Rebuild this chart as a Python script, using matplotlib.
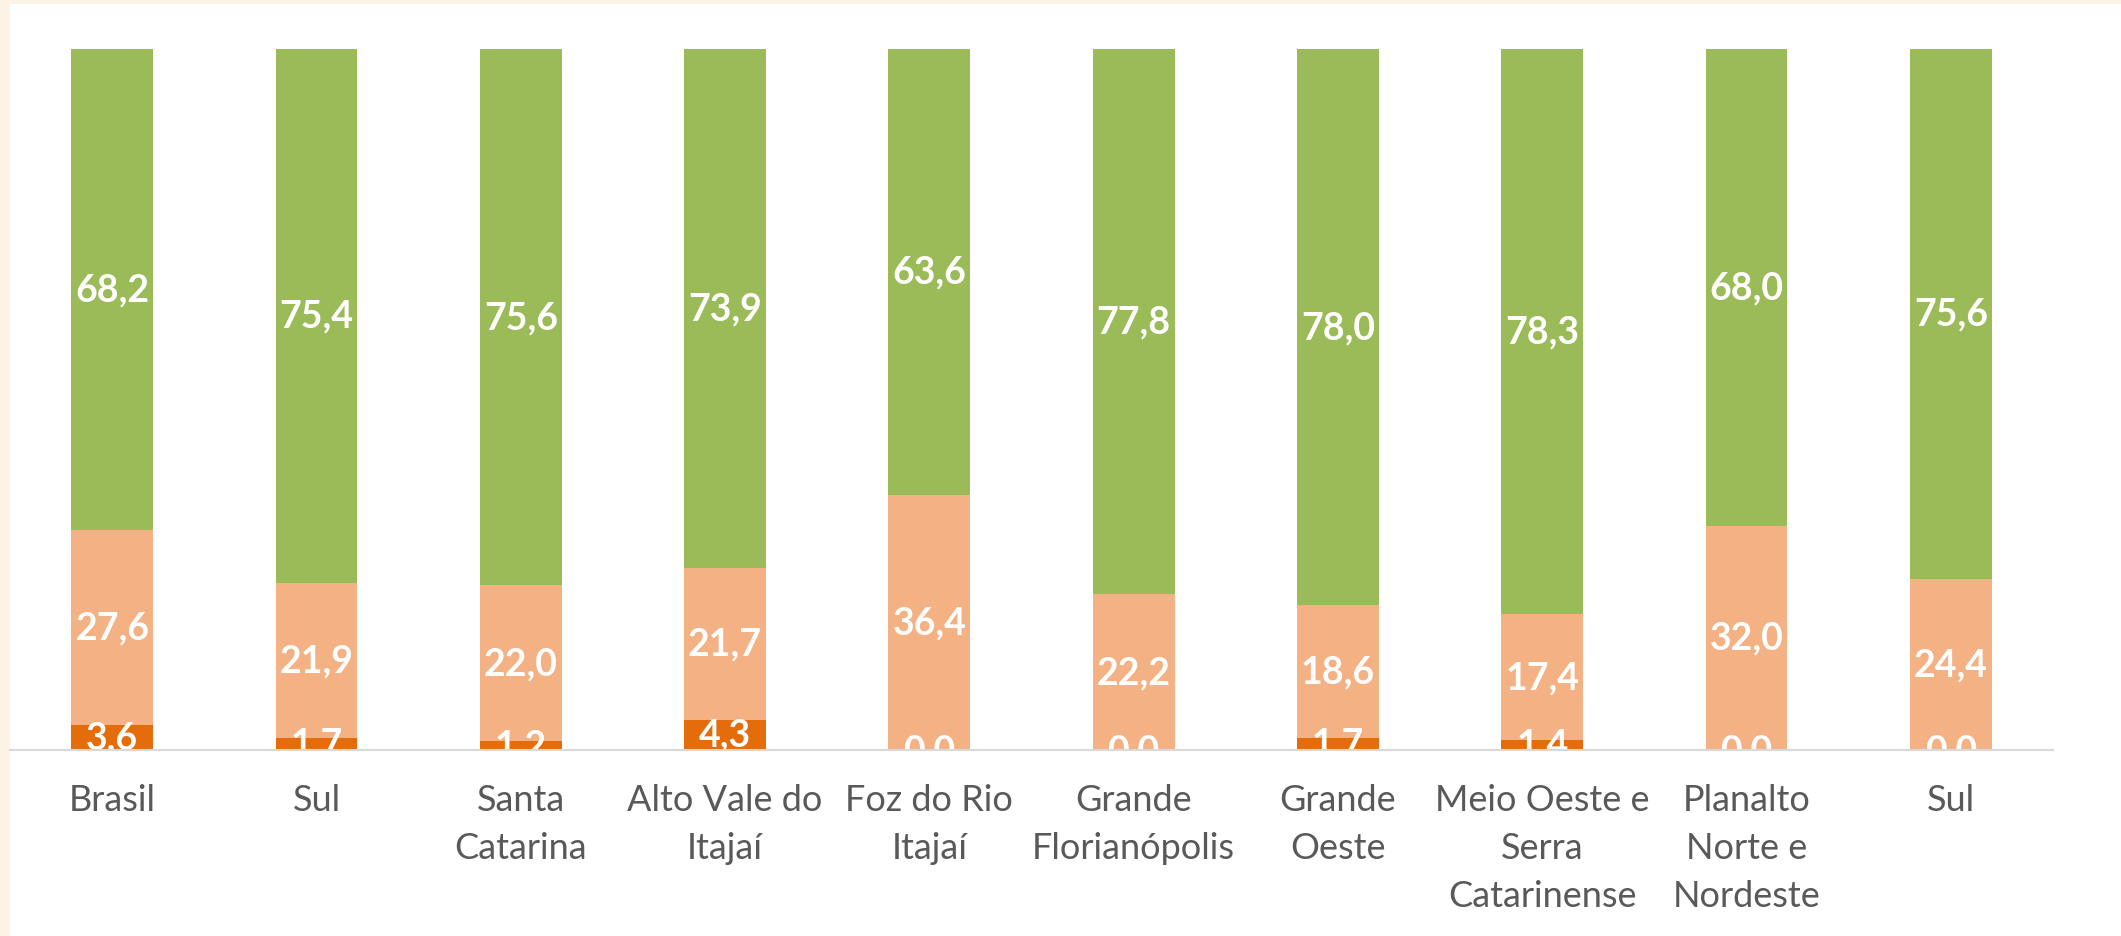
import matplotlib.pyplot as plt
from matplotlib.patches import Rectangle
import numpy as np

# dados (percentuais por região)
categorias = ['Brasil', 'Sul', 'Santa\nCatarina', 'Alto Vale do\nItajaí', 'Foz do Rio\nItajaí',
              'Grande\nFlorianópolis', 'Grande\nOeste', 'Meio Oeste e\nSerra\nCatarinense',
              'Planalto\nNorte e\nNordeste', 'Sul']
serie_escura = [3.6, 1.7, 1.2, 4.3, 0.0, 0.0, 1.7, 1.4, 0.0, 0.0]
serie_clara = [27.6, 21.9, 22.0, 21.7, 36.4, 22.2, 18.6, 17.4, 32.0, 24.4]
serie_verde = [68.2, 75.4, 75.6, 73.9, 63.6, 77.8, 78.0, 78.3, 68.0, 75.6]

cores = ['#E46C0A', '#F4B183', '#9BBB59']

plt.rcParams['font.family'] = ['Lato', 'DejaVu Sans']

fig = plt.figure(figsize=(21.21, 9.37), dpi=100)
fig.patch.set_facecolor('#FBF4E6')
# painel branco do gráfico
fig.patches.append(Rectangle((10 / 2121, 0), 1, 1 - 5 / 937, transform=fig.transFigure,
                             facecolor='white', edgecolor='none', zorder=-1))

ax = fig.add_axes([10 / 2121, 1 - 751 / 937, 2043 / 2121, 701 / 937])
ax.set_zorder(1)
ax.patch.set_alpha(0)

x = np.arange(len(categorias))
series = [np.array(serie_escura), np.array(serie_clara), np.array(serie_verde)]
total = sum(series)  # gráfico 100% empilhado

base = np.zeros(len(x))
for vals, cor in zip(series, cores):
    pct = vals / total * 100
    ax.bar(x, pct, width=0.4, bottom=base, color=cor, zorder=2)
    for xi, b, p, v in zip(x, base, pct, vals):
        ax.text(xi, b + p / 2, f'{v:.1f}'.replace('.', ','), ha='center', va='center',
                color='white', fontsize=27, fontweight='bold', clip_on=True, zorder=3)
    base = base + pct

ax.set_xlim(-0.5, len(x) - 0.5)
ax.set_ylim(0, 100)
ax.set_yticks([])
for s in ['top', 'right', 'left']:
    ax.spines[s].set_visible(False)
ax.spines['bottom'].set_color('#D9D9D9')
ax.spines['bottom'].set_linewidth(1.5)
ax.spines['bottom'].set_zorder(4)

ax.set_xticks(x)
ax.set_xticklabels(categorias, fontsize=26, color='#595959', linespacing=1.55)
ax.tick_params(axis='x', length=0, pad=24)

fig.savefig('out.png', dpi=100, facecolor=fig.get_facecolor())
